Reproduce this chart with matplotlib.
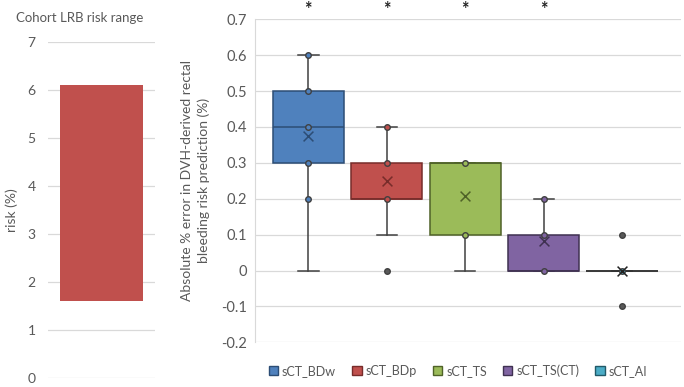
import matplotlib
matplotlib.use("Agg")
import matplotlib.pyplot as plt
from matplotlib.patches import Patch

plt.rcParams['font.family'] = ['Lato', 'DejaVu Sans']
TXT = '#595959'

# ---- data ----
risk_range = [1.6, 6.1]          # cohort LRB risk range (%)
left_ticks = [0, 1, 2, 3, 4, 5, 6, 7]

groups = ['sCT_BDw', 'sCT_BDp', 'sCT_TS', 'sCT_TS(CT)', 'sCT_AI']
whislo = [0.0, 0.1, 0.0, 0.0, 0.0]
q1     = [0.3, 0.2, 0.1, 0.0, 0.0]
med    = [0.4, 0.2, 0.3, 0.0, 0.0]
q3     = [0.5, 0.3, 0.3, 0.1, 0.0]
whishi = [0.6, 0.4, 0.3, 0.2, 0.0]
means  = [0.375, 0.25, 0.207, 0.082, 0.0]
inner_points = [[0.2, 0.3, 0.4, 0.5, 0.6], [0.2, 0.3, 0.4], [0.1, 0.3], [0.0, 0.1, 0.2], [0.0]]
outliers = [[], [0.0], [], [], [0.1, -0.1]]
significant = [True, True, True, True, False]
right_ticks = [-0.2, -0.1, 0, 0.1, 0.2, 0.3, 0.4, 0.5, 0.6, 0.7]

colors = ['#4F81BD', '#C0504D', '#9BBB59', '#8064A2', '#4BACC6']
edges  = ['#2C4D75', '#772C2A', '#4F6228', '#3F3151', '#215968']

W, H = 684, 387
fig = plt.figure(figsize=(W / 100, H / 100), dpi=100)

# ---- left panel ----
axL = fig.add_axes([48 / W, (H - 378) / H, 107 / W, 336 / H])
axL.bar([0], [risk_range[1] - risk_range[0]], bottom=[risk_range[0]], width=0.77,
        color='#C0504D', zorder=3)
axL.set_xlim(-0.5, 0.5)
axL.set_ylim(0, 7)
axL.set_yticks(left_ticks)
axL.set_yticklabels([str(t) for t in left_ticks])
axL.set_xticks([])
axL.grid(axis='y', color='#D9D9D9', lw=0.9, zorder=0)
for s in axL.spines.values():
    s.set_visible(False)
axL.tick_params(axis='y', length=0, pad=9, labelsize=10, labelcolor=TXT)
axL.set_ylabel('risk (%)', fontsize=10, color=TXT, labelpad=7)
fig.text(80 / W, 1 - 18 / H, 'Cohort LRB risk range', ha='center', va='center',
         fontsize=9.5, color=TXT)

# ---- right panel ----
y_top = 19.3
y_bot = 342.3
axR = fig.add_axes([255 / W, (H - y_bot) / H, (681 - 255) / W, (y_bot - y_top) / H])
pos = list(range(len(groups)))
stats = []
for i in pos:
    stats.append(dict(whislo=whislo[i], q1=q1[i], med=med[i], q3=q3[i],
                      whishi=whishi[i], mean=means[i], fliers=[]))
bp = axR.bxp(stats, positions=pos, widths=0.91, patch_artist=True, showmeans=False,
             showfliers=False, capwidths=0.26, manage_ticks=False)
for i, b in enumerate(bp['boxes']):
    b.set_facecolor(colors[i])
    b.set_edgecolor('#333333' if i == 4 else edges[i])
    b.set_linewidth(1.1)
    b.set_zorder(3)
for i, m in enumerate(bp['medians']):
    m.set_color(edges[i] if i != 4 else '#333333')
    m.set_linewidth(1.1)
    m.set_zorder(4)
for w in bp['whiskers']:
    w.set_color('#404040'); w.set_linewidth(1.1); w.set_zorder(2)
for c in bp['caps']:
    c.set_color('#404040'); c.set_linewidth(1.1); c.set_zorder(2)

for i in pos:
    pts = inner_points[i]
    axR.scatter([i] * len(pts), pts, s=16, facecolor=colors[i], edgecolor='#404040',
                linewidth=1.0, zorder=5)
    if outliers[i]:
        axR.scatter([i] * len(outliers[i]), outliers[i], s=16, facecolor='#595959',
                    edgecolor='#404040', linewidth=1.0, zorder=5)
    axR.scatter([i], [means[i]], marker='x', s=50, color=edges[i] if i != 4 else '#222222',
                linewidth=1.1, zorder=6)
    if significant[i]:
        axR.text(i, 0.726, '*', ha='center', va='center', fontsize=13, fontweight='bold',
                 color='#222222', clip_on=False)

axR.set_xlim(-0.68, 4.75)
axR.set_ylim(-0.2, 0.7)
axR.set_yticks(right_ticks)
axR.set_yticklabels(['0' if abs(t) < 1e-9 else f'{t:g}' for t in right_ticks])
axR.set_xticks([])
axR.grid(axis='y', color='#D9D9D9', lw=0.9, zorder=0)
axR.set_axisbelow(True)
for k, s in axR.spines.items():
    s.set_visible(k == 'left')
axR.spines['left'].set_color('#D9D9D9')
axR.tick_params(axis='y', length=0, pad=6, labelsize=10.5, labelcolor=TXT)
axR.set_ylabel('Absolute % error in DVH-derived rectal\nbleeding risk prediction (%)',
               fontsize=10, color=TXT, labelpad=8, linespacing=1.4)

handles = [Patch(facecolor=colors[i], edgecolor=edges[i], label=groups[i]) for i in pos]
fig.legend(handles=handles, loc='center', bbox_to_anchor=(458 / W, 16 / H), ncol=5,
           frameon=False, fontsize=9, handlelength=0.75, handleheight=0.75,
           handletextpad=0.3, columnspacing=1.3, labelcolor=TXT)

fig.savefig('out.png', dpi=100)
